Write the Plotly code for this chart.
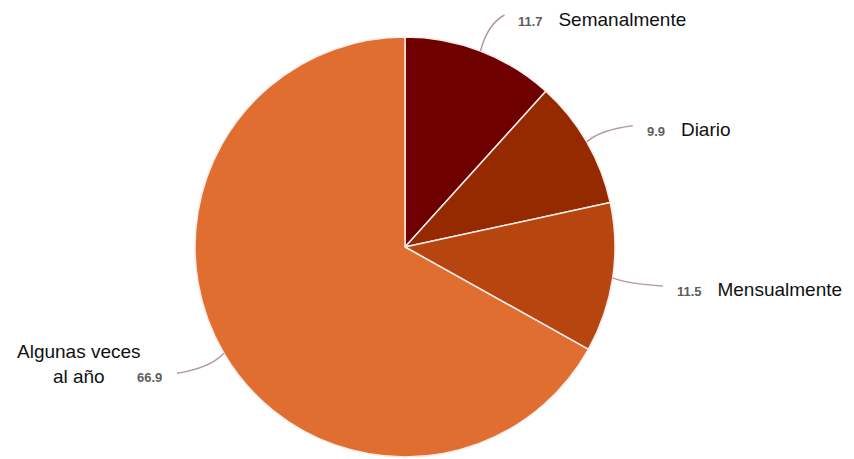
import math
import plotly.graph_objects as go

W, H = 854, 459

categories = ["Semanalmente", "Diario", "Mensualmente", "Algunas veces<br>al año"]
values = [11.7, 9.9, 11.5, 66.9]
value_labels = ["11.7", "9.9", "11.5", "66.9"]
colors = ["#6f0000", "#952a00", "#b7450f", "#e06e31"]

# style: pie geometry (pixels) and leader-line end offsets
CX, CY, R = 405, 247, 210
line_offsets = [(24, -36), (46, -16), (50, 8), (-47, 20)]
label_side = ["right", "right", "right", "left"]

def px(x):
    return x / W

def py(y):
    return 1 - y / H

fig = go.Figure()
fig.add_trace(go.Pie(
    labels=categories,
    values=values,
    sort=False,
    direction="clockwise",
    rotation=0,
    marker=dict(colors=colors, line=dict(color="#fbecec", width=1.5)),
    textinfo="none",
    hoverinfo="label+value",
    showlegend=False,
    domain=dict(x=[px(CX - R), px(CX + R)], y=[py(CY + R), py(CY - R)]),
))

total = sum(values)
cum = 0.0
shapes = []
annotations = []
num_font = dict(family="Liberation Sans, Arial, sans-serif", size=13, color="#5e5e5e")
lab_font = dict(family="Liberation Sans, Arial, sans-serif", size=19, color="#111111")
for i, v in enumerate(values):
    mid = (cum + v / 2) / total * 2 * math.pi
    cum += v
    sx = CX + R * math.sin(mid)
    sy = CY - R * math.cos(mid)
    dx, dy = line_offsets[i]
    ex, ey = sx + dx, sy + dy
    qx, qy = sx + 0.3 * dx, sy + 0.75 * dy
    shapes.append(dict(
        type="path", xref="paper", yref="paper",
        path=f"M {px(sx)},{py(sy)} Q {px(qx)},{py(qy)} {px(ex)},{py(ey)}",
        line=dict(color="#b59a9a", width=1.5),
    ))
    if label_side[i] == "right":
        txt = (f"<span style='font-size:13px;color:#5e5e5e'><b>{value_labels[i]}</b></span>"
               f"\u00a0\u00a0\u00a0{categories[i]}")
        annotations.append(dict(
            x=px(ex + 12), y=py(ey + 4), xref="paper", yref="paper",
            text=txt, showarrow=False, xanchor="left", yanchor="middle",
            font=lab_font,
        ))
    else:
        annotations.append(dict(
            x=px(ex - 13), y=py(ey + 4), xref="paper", yref="paper",
            text=f"<b>{value_labels[i]}</b>", showarrow=False,
            xanchor="right", yanchor="middle", font=num_font,
        ))
        annotations.append(dict(
            x=px(ex - 98), y=py(ey - 9), xref="paper", yref="paper",
            text=categories[i], showarrow=False, xanchor="center", yanchor="middle",
            align="center", font=lab_font,
        ))

fig.update_layout(
    width=W, height=H,
    margin=dict(l=0, r=0, t=0, b=0),
    paper_bgcolor="white",
    plot_bgcolor="white",
    shapes=shapes,
    annotations=annotations,
    showlegend=False,
)

fig.write_html("out.html")
